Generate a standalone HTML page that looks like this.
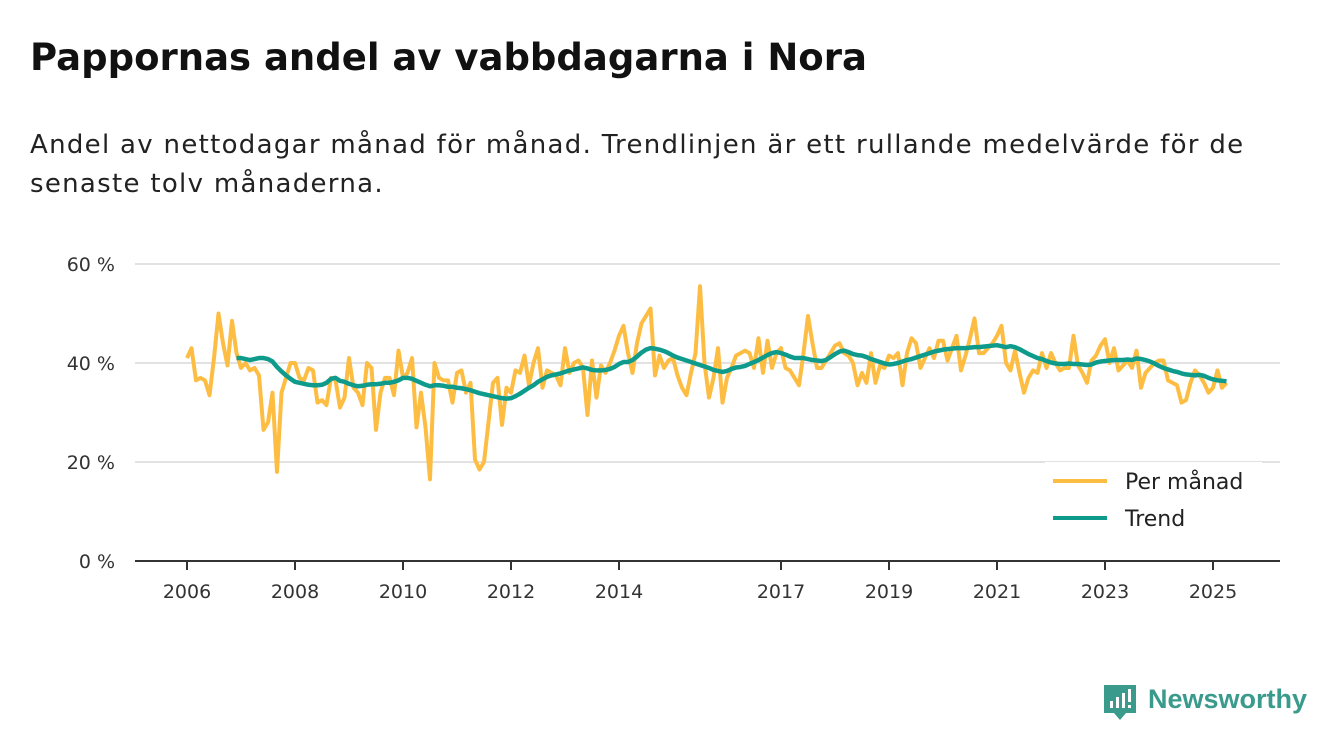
<!DOCTYPE html>
<html><head><meta charset="utf-8"><style>
body{margin:0;background:#fff;width:1340px;height:753px;overflow:hidden;font-family:"DejaVu Sans","Liberation Sans",sans-serif;color:#111}
h1{position:absolute;left:30px;top:36px;margin:0;font-size:37px;font-weight:bold}
.sub{position:absolute;left:30px;top:126px;margin:0;font-size:26px;letter-spacing:1.3px;line-height:39px;width:1300px;white-space:nowrap;color:#222}
svg{position:absolute;left:0;top:0}
svg text{font-family:"DejaVu Sans","Liberation Sans",sans-serif}
svg text.logo-text{font-family:"Liberation Sans",sans-serif}
</style></head><body>
<h1>Pappornas andel av vabbdagarna i Nora</h1>
<p class="sub">Andel av nettodagar månad för månad. Trendlinjen är ett rullande medelvärde för de<br>senaste tolv månaderna.</p>
<svg id="chart" width="1340" height="753"></svg>
<script>
const monthly = [41,43,36.5,37,36.5,33.5,41,50,44,39.5,48.5,42,
39,40,38.5,39,37.5,26.5,28,34,18,34,37,40,
40,37,36.5,39,38.5,32,32.5,31.5,37,36.5,31,33,
41,35,34,31.5,40,39,26.5,34,37,37,33.5,42.5,
37,38,41,27,34,27,16.5,40,37,36.5,36.5,32,
38,38.5,34,36,20.5,18.5,20,28,36,37,27.5,35,
34,38.5,38,41.5,35.5,40,43,35,38.5,38,37.5,35.5,
43,38,40,40.5,39,29.5,40.5,33,39.5,38,40,42.5,
45.5,47.5,42,38,44,48,49.5,51,37.5,41.5,39,40.5,
41,37.5,35,33.5,38,42,55.5,40,33,37,43,32,
37,39,41.5,42,42.5,42,39,45,38,44.5,39,42,
43,39,38.5,37,35.5,42,49.5,44,39,39,40.5,42,
43.5,44,42,41.5,40,35.5,38,36,42,36,39.5,39,
41.5,41,42,35.5,42,45,44,39,41,43,41,44.5,
44.5,40.5,43,45.5,38.5,41.5,45,49,42,42,43,44,
45.5,47.5,40,38.5,42.5,38,34,37,38.5,38,42,39,
42,40,38.5,39,39,45.5,39.5,38,36,40.5,41.5,43.5,
44.8,40,43,38.5,39.5,40.5,39,42.5,35,38,39,40,
40.5,40.5,36.5,36,35.5,32,32.5,36,38.5,37.5,36,34,
35,38.5,35,36];
const trendStart = 11;
const trend = [41,41,40.8,40.6,40.8,41,41,40.8,40.3,39.2,38.3,37.5,36.8,
36.2,36,35.8,35.6,35.5,35.5,35.6,36,36.8,37,36.4,36.2,
35.8,35.5,35.3,35.4,35.6,35.7,35.7,35.8,36,36,36.2,36.5,
37,37,36.8,36.4,36,35.6,35.3,35.5,35.5,35.4,35.2,35.2,
35,34.9,34.7,34.5,34.2,33.9,33.7,33.5,33.3,33.1,32.9,32.8,
32.9,33.3,33.8,34.4,35,35.5,36.2,36.7,37.2,37.5,37.7,37.9,
38.2,38.5,38.7,38.9,39.1,38.9,38.6,38.5,38.5,38.6,38.8,39.2,
39.8,40.2,40.2,40.6,41.3,42.1,42.7,43,42.9,42.7,42.4,42,
41.5,41.1,40.8,40.5,40.2,39.9,39.6,39.3,39,38.6,38.4,38.2,
38.4,38.8,39.1,39.2,39.4,39.8,40.2,40.6,41.1,41.6,42,42.2,
42,41.7,41.3,41,41,41,40.8,40.6,40.5,40.4,40.6,41.2,
41.8,42.3,42.5,42.2,41.8,41.6,41.5,41.2,40.8,40.5,40.2,39.9,
39.7,39.8,40,40.3,40.6,40.8,41.1,41.4,41.7,42,42.3,42.5,
42.7,42.8,42.9,43,43,43,43.1,43.2,43.2,43.3,43.4,43.5,
43.6,43.4,43.2,43.4,43.2,42.8,42.3,41.8,41.4,41,40.8,40.4,
40.1,39.9,39.8,39.8,39.9,39.8,39.8,39.7,39.6,39.7,40.1,40.3,
40.4,40.5,40.6,40.6,40.6,40.7,40.6,40.9,40.8,40.6,40.3,39.9,
39.4,39,38.7,38.4,38.2,37.9,37.7,37.6,37.5,37.6,37.4,37,
36.7,36.5,36.4,36.3];
const yTicks = [0,20,40,60];
const yTickLabels = ["0 %","20 %","40 %","60 %"];
const xTickYears = [2006,2008,2010,2012,2014,2017,2019,2021,2023,2025];

const NS='http://www.w3.org/2000/svg';
const svg=document.getElementById('chart');
const x0=187, pxPerMonth=4.5;
function xScale(i){return x0+i*pxPerMonth;}
function yScale(v){return 561-v*4.95;}
function el(tag,attrs,parent){const e=document.createElementNS(NS,tag);for(const k in attrs)e.setAttribute(k,attrs[k]);(parent||svg).appendChild(e);return e;}

yTicks.forEach((t,k)=>{
  if(t>0){const g=el('line',{x1:135,x2:1280,y1:yScale(t),y2:yScale(t),stroke:'#d9d9d9','stroke-width':1.5});
  
  }
  const tx=el('text',{x:115,y:yScale(t)+7,'text-anchor':'end','font-size':19,fill:'#333'});
  tx.textContent=yTickLabels[k];
  
  
});
xTickYears.forEach(yr=>{
  const x=xScale((yr-2006)*12);
  const tk=el('line',{x1:x,x2:x,y1:561,y2:570,stroke:'#333','stroke-width':2});
  
  
  const tx=el('text',{x:x,y:598,'text-anchor':'middle','font-size':19,fill:'#333'});
  tx.textContent=yr;
  
  
});
const ax=el('line',{x1:135,x2:1280,y1:561,y2:561,stroke:'#333','stroke-width':2});



const mp=el('polyline',{points:monthly.map((v,i)=>xScale(i)+','+yScale(v)).join(' '),fill:'none',stroke:'#fdbd43','stroke-width':4,'stroke-linejoin':'round'});


const tp=el('polyline',{points:trend.map((v,i)=>xScale(i+trendStart)+','+yScale(v)).join(' '),fill:'none',stroke:'#0f9b8c','stroke-width':4.5,'stroke-linejoin':'round'});



const lg=el('g',{});


el('rect',{x:1045,y:462,width:217,height:80,fill:'#fff'},lg);
el('line',{x1:1053,x2:1107,y1:481,y2:481,stroke:'#fdbd43','stroke-width':4},lg);
el('line',{x1:1053,x2:1107,y1:518,y2:518,stroke:'#0f9b8c','stroke-width':4},lg);
const l1=el('text',{x:1125,y:489,'font-size':22,fill:'#222'},lg);l1.textContent='Per månad';


const l2=el('text',{x:1125,y:526,'font-size':22,fill:'#222'},lg);l2.textContent='Trend';



const logo=el('g',{});


el('path',{d:'M1104 685 h32 v28 h-10 l-6 7 l-6 -7 h-10 z',fill:'#3a9a8c'},logo);
el('rect',{x:1110,y:701,width:3,height:7,fill:'#fff'},logo);
el('rect',{x:1116,y:697,width:3,height:11,fill:'#fff'},logo);
el('rect',{x:1122,y:693,width:3,height:15,fill:'#fff'},logo);
el('rect',{x:1128,y:689,width:3,height:13,fill:'#fff'},logo);
el('rect',{x:1128,y:705,width:3,height:3,fill:'#fff'},logo);
const lt=el('text',{x:1148,y:708,'font-size':27,'font-weight':'bold',fill:'#3a9a8c','class':'logo-text'},logo);lt.textContent='Newsworthy';
</script>
</body></html>
